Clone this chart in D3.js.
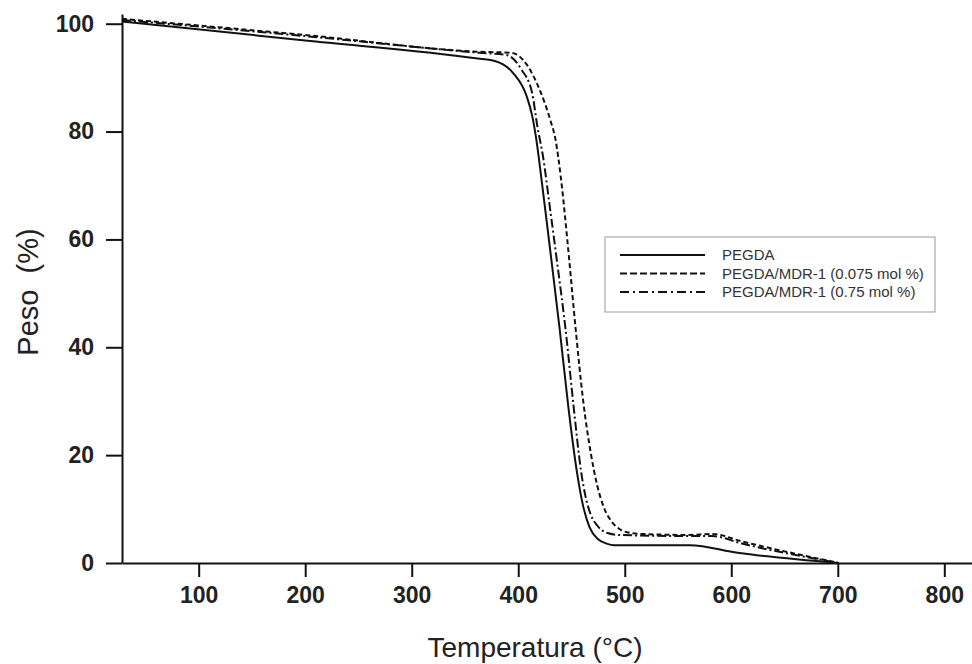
<!DOCTYPE html>
<html lang="es">
<head>
    <meta charset="UTF-8">
    <title>TGA PEGDA</title>
    <script src="https://d3js.org/d3.v7.min.js"></script>
    <style>
        body {
            margin: 0;
            background-color: #fff;
            font-family: "Liberation Sans", Arial, sans-serif;
        }
        .axis path, .axis line {
            stroke: #111;
            stroke-width: 2px;
        }
        .axis text {
            fill: #222;
            font-size: 23px;
            font-weight: bold;
            font-family: "Liberation Sans", Arial, sans-serif;
        }
        .curve {
            fill: none;
            stroke: #111;
            stroke-width: 2px;
        }
        .legend text {
            font-size: 15px;
            fill: #333;
        }
    </style>
</head>
<body>
    <svg id="chart" width="972" height="664"></svg>
    <script>
        // temperature (°C), weight (%)
        const pegda = [
            [28, 100.4], [200, 96.9], [364, 93.5], [378, 93.1], [395, 90.9], [408, 86.5],
            [413, 83], [417, 78.5], [421, 72.5], [430, 58], [439, 43.2], [447, 29],
            [455, 17], [461, 10.5], [467, 6.6], [475, 4.4], [483, 3.6], [490, 3.3],
            [561, 3.3], [606, 1.9], [701, 0]
        ];
        const mdr075 = [
            [28, 100.9], [200, 97.9], [364, 94.8], [394, 94.6], [408, 92.4], [420, 87.8],
            [430, 82.2], [435, 78.5], [440, 71.5], [447, 58], [454, 43.2], [461, 30],
            [468, 20.5], [474, 14.5], [481, 10], [488, 7.6], [495, 6.3], [502, 5.7],
            [514, 5.4], [560, 5.2], [582, 5.4], [610, 4.0], [701, 0]
        ];
        const mdr75 = [
            [28, 100.7], [200, 97.7], [364, 94.6], [389, 94.2], [403, 91.5], [413, 87.2],
            [418, 80.9], [423, 75.7], [430, 65.5], [437, 55], [444.5, 43.2], [452, 29],
            [459, 17], [463, 12.5], [468, 9], [474, 7], [483, 5.6], [495, 5.2],
            [560, 5.0], [582, 5.0], [610, 3.6], [701, 0]
        ];

        const seriesNames = ["PEGDA", "PEGDA/MDR-1 (0.075 mol %)", "PEGDA/MDR-1 (0.75 mol %)"];
        const seriesData = [pegda, mdr075, mdr75];
        const dashes = [null, "5,3", "9,3,2,3"];
        const legendDashes = [null, "7,3", "9,4,2,4"];

        const xTicks = [100, 200, 300, 400, 500, 600, 700, 800];
        const yTicks = [0, 20, 40, 60, 80, 100];

        const svg = d3.select("#chart");

        const x = d3.scaleLinear().domain([28, 826]).range([122, 972]);
        const y = d3.scaleLinear().domain([0, 101.8]).range([563, 14]);

        const line = d3.line()
            .x(d => x(d[0]))
            .y(d => y(d[1]))
            .curve(d3.curveMonotoneX);

        svg.selectAll("path.curve")
            .data(seriesData)
            .enter()
            .append("path")
            .attr("class", "curve")
            .attr("d", line)
            .attr("stroke-dasharray", (d, i) => dashes[i]);

        svg.append("g")
            .attr("class", "axis")
            .attr("transform", `translate(0, ${y(0)})`)
            .call(d3.axisBottom(x).tickValues(xTicks).tickSize(14).tickSizeOuter(0).tickPadding(10));

        svg.append("g")
            .attr("class", "axis")
            .attr("transform", `translate(${x(28)}, 0)`)
            .call(d3.axisLeft(y).tickValues(yTicks).tickSize(16).tickSizeOuter(0).tickPadding(12));

        svg.append("text")
            .attr("x", 535)
            .attr("y", 657)
            .attr("text-anchor", "middle")
            .style("font-size", "28px")
            .style("fill", "#222")
            .text("Temperatura (°C)");

        svg.append("text")
            .attr("transform", "translate(38, 292) rotate(-90)")
            .attr("text-anchor", "middle")
            .style("font-size", "29px")
            .style("fill", "#222")
            .style("white-space", "pre")
            .text("Peso  (%)");

        // legend
        const legend = svg.append("g").attr("class", "legend");
        legend.append("rect")
            .attr("x", 605).attr("y", 237)
            .attr("width", 330).attr("height", 75)
            .attr("fill", "#fff")
            .attr("stroke", "#999")
            .attr("stroke-width", 1);

        seriesNames.forEach((name, i) => {
            const ly = 255 + i * 18.5;
            legend.append("line")
                .attr("x1", 620).attr("x2", 705)
                .attr("y1", ly).attr("y2", ly)
                .attr("stroke", "#111")
                .attr("stroke-width", 2)
                .attr("stroke-dasharray", legendDashes[i]);
            legend.append("text")
                .attr("x", 722)
                .attr("y", ly + 5)
                .text(name);
        });
    </script>
</body>
</html>
